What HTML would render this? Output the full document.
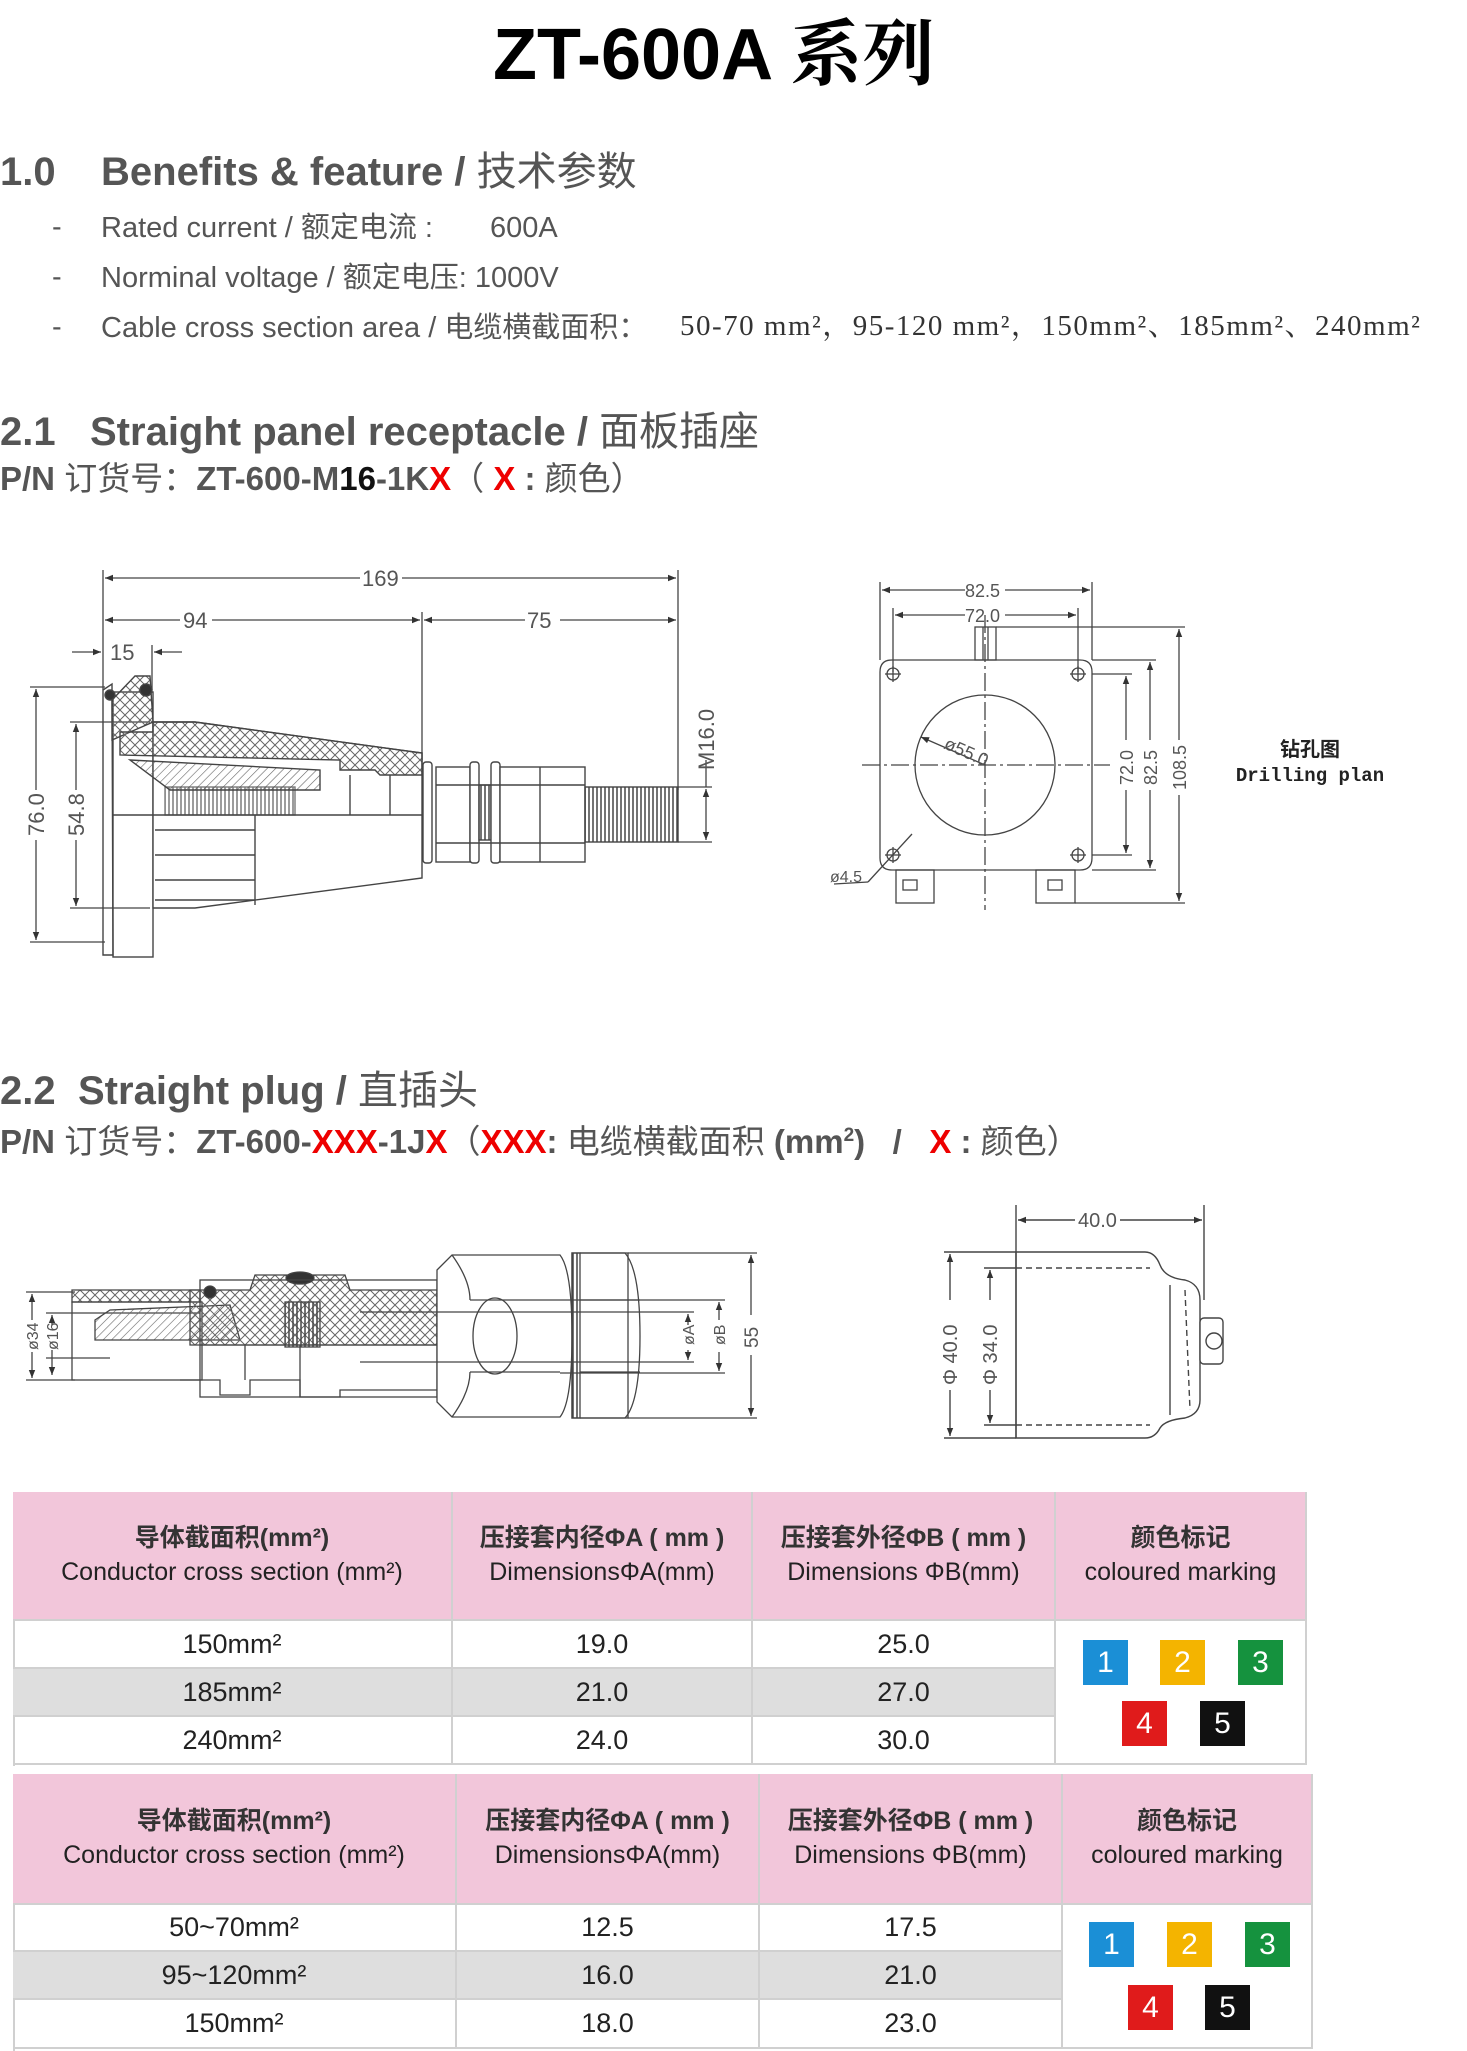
<!DOCTYPE html>
<html><head><meta charset="utf-8">
<style>
*{margin:0;padding:0;box-sizing:border-box}
body{width:1467px;height:2051px;background:#fff;position:relative;overflow:hidden;font-family:"Liberation Sans","Noto Sans CJK SC",sans-serif;color:#555}
.a{position:absolute;white-space:nowrap;line-height:1}
.h{font-weight:bold;font-size:40px;color:#555}
.b{font-size:29px;color:#555}
.pn{font-weight:bold;font-size:33px;color:#555}
.n{font-weight:normal}
.r{color:#e00}
.k{color:#111}
.cell{position:absolute;display:flex;align-items:center;justify-content:center;text-align:center;font-size:27px;color:#222;border-right:2px solid #d0d0d0;border-bottom:2px solid #d0d0d0}
.hd{background:#f2c6da;flex-direction:column;font-size:25px;line-height:1.35;font-weight:bold;color:#333}
.hd span.en{font-weight:normal;color:#222}
.g{background:#dedede}
.sq{position:absolute;width:45px;height:45px;color:#fff;font-size:30px;display:flex;align-items:center;justify-content:center;font-family:"Liberation Sans",sans-serif}
</style></head><body>

<div class="a" style="left:493px;top:12px;font-size:72px;font-weight:bold;color:#000;font-family:'Liberation Sans','Noto Sans CJK SC',sans-serif">ZT-600A <span style="font-weight:bold;font-family:'Noto Serif CJK SC',serif">系列</span></div>

<div class="a h" style="left:0;top:152px">1.0</div>
<div class="a h" style="left:101px;top:152px">Benefits &amp; feature / <span class="n">技术参数</span></div>

<div class="a b" style="left:52px;top:213px">-</div>
<div class="a b" style="left:101px;top:214px">Rated current / 额定电流 :</div>
<div class="a b" style="left:490px;top:214px">600A</div>
<div class="a b" style="left:52px;top:263px">-</div>
<div class="a b" style="left:101px;top:264px">Norminal voltage / 额定电压: 1000V</div>
<div class="a b" style="left:52px;top:313px">-</div>
<div class="a b" style="left:101px;top:314px">Cable cross section area / 电缆横截面积：</div>
<div class="a" style="left:680px;top:312px;font-size:29px;font-family:'Liberation Serif','Noto Serif CJK SC',serif;color:#333;letter-spacing:1.5px">50-70 mm²，95-120 mm²，150mm²、185mm²、240mm²</div>

<div class="a h" style="left:0;top:412px">2.1</div>
<div class="a h" style="left:90px;top:412px">Straight panel receptacle / <span class="n">面板插座</span></div>
<div class="a pn" style="left:0;top:462px">P/N <span class="n">订货号：</span>ZT-600-M<span class="k">16</span>-1K<span class="r">X</span><span class="n">（ </span> <span class="r">X</span> : <span class="n">颜色）</span></div>

<div class="a h" style="left:0;top:1071px">2.2</div>
<div class="a h" style="left:78px;top:1071px">Straight plug / <span class="n">直插头</span></div>
<div class="a pn" style="left:0;top:1125px">P/N <span class="n">订货号：</span>ZT-600-<span class="r">XXX</span>-1J<span class="r">X</span><span class="n">（</span><span class="r">XXX</span>: <span class="n">电缆横截面积</span> (mm<sup style="font-size:19px">2</sup>) &nbsp; / &nbsp; <span class="r">X</span> : <span class="n">颜色）</span></div>

<svg class="a" style="left:0;top:0" width="1467" height="2051" viewBox="0 0 1467 2051" font-family="Liberation Sans, sans-serif" fill="none" stroke="#555" stroke-width="1.5">
<defs>
<marker id="ar" viewBox="0 0 10 10" refX="10" refY="5" markerWidth="12" markerHeight="8" orient="auto-start-reverse" markerUnits="userSpaceOnUse"><path d="M0,1L10,5L0,9z" fill="#333" stroke="none"/></marker>
<pattern id="x" width="10" height="10" patternUnits="userSpaceOnUse"><path d="M0,0L10,10M10,0L0,10" stroke="#666" stroke-width="1"/></pattern>
<pattern id="d" width="6" height="6" patternUnits="userSpaceOnUse" patternTransform="rotate(45)"><path d="M0,0V6" stroke="#666" stroke-width="1.2"/></pattern>
<pattern id="t" width="4" height="10" patternUnits="userSpaceOnUse"><path d="M1,0V10" stroke="#444" stroke-width="1.5"/></pattern>
</defs>

<g stroke="#444" stroke-width="1.3">
<line x1="103" y1="570" x2="103" y2="690"/><line x1="678" y1="570" x2="678" y2="790"/>
<line x1="105" y1="578" x2="360" y2="578" marker-start="url(#ar)"/><line x1="402" y1="578" x2="676" y2="578" marker-end="url(#ar)"/>
<line x1="105" y1="620" x2="180" y2="620" marker-start="url(#ar)"/><line x1="212" y1="620" x2="420" y2="620" marker-end="url(#ar)"/>
<line x1="422" y1="612" x2="422" y2="760"/>
<line x1="424" y1="620" x2="525" y2="620" marker-start="url(#ar)"/><line x1="560" y1="620" x2="676" y2="620" marker-end="url(#ar)"/>
<line x1="72" y1="652" x2="101" y2="652" marker-end="url(#ar)"/><line x1="182" y1="652" x2="154" y2="652" marker-end="url(#ar)"/>
<line x1="152" y1="645" x2="152" y2="690"/>
<line x1="30" y1="687" x2="105" y2="687"/><line x1="30" y1="942" x2="105" y2="942"/>
<line x1="36" y1="689" x2="36" y2="790" marker-start="url(#ar)"/><line x1="36" y1="840" x2="36" y2="940" marker-end="url(#ar)"/>
<line x1="70" y1="722" x2="150" y2="722"/><line x1="70" y1="908" x2="150" y2="908"/>
<line x1="76" y1="724" x2="76" y2="790" marker-start="url(#ar)"/><line x1="76" y1="840" x2="76" y2="906" marker-end="url(#ar)"/>
<line x1="678" y1="787" x2="712" y2="787"/><line x1="678" y1="842" x2="712" y2="842"/>
<line x1="706" y1="789" x2="706" y2="840" marker-start="url(#ar)" marker-end="url(#ar)"/>
<line x1="706" y1="760" x2="706" y2="787"/>
</g>
<g fill="#555" stroke="none" font-size="22">
<text x="362" y="586">169</text><text x="183" y="628">94</text><text x="527" y="628">75</text><text x="110" y="660">15</text>
<text transform="translate(44,836) rotate(-90)">76.0</text>
<text transform="translate(84,836) rotate(-90)">54.8</text>
<text transform="translate(714,770) rotate(-90)">M16.0</text>
</g>
<g stroke="#444" stroke-width="1.4">
<path d="M103,690 L112,684 L113,955 L103,955 Z"/>
<rect x="113" y="692" width="40" height="265"/>
<path d="M112,700 L135,676 L150,676 L153,722 L112,740Z" fill="url(#x)"/>
<circle cx="110" cy="695" r="5" fill="#333"/><circle cx="146" cy="690" r="6" fill="#333"/>
<path d="M153,722 L195,722 L422,753 L422,878 L195,908 L153,908 Z" fill="#fff"/>
<path d="M120,732 L153,732 L153,722 L195,722 L422,753 L422,775 L380,775 L375,770 L340,770 L340,760 L120,755 Z" fill="url(#x)"/>
<path d="M130,760 L320,770 L320,790 L170,790 Z" fill="url(#d)"/>
<rect x="165" y="787" width="130" height="28" fill="url(#t)" opacity=".7"/>
<line x1="113" y1="815" x2="422" y2="815"/>
<line x1="155" y1="830" x2="255" y2="830"/><line x1="155" y1="855" x2="255" y2="855"/><line x1="155" y1="880" x2="255" y2="880"/><line x1="155" y1="900" x2="255" y2="900"/>
<line x1="255" y1="815" x2="255" y2="905"/>
<line x1="350" y1="775" x2="350" y2="815"/><line x1="390" y1="775" x2="390" y2="815"/>
<rect x="423" y="762" width="9" height="101" rx="3" fill="#fff"/>
<rect x="436" y="767" width="34" height="95" fill="#fff"/>
<rect x="470" y="762" width="9" height="101" rx="3" fill="#fff"/>
<rect x="479" y="785" width="12" height="55" fill="url(#t)"/>
<rect x="491" y="762" width="9" height="101" rx="3" fill="#fff"/>
<rect x="500" y="767" width="85" height="95" fill="#fff"/>
<line x1="540" y1="767" x2="540" y2="862"/>
<line x1="436" y1="785" x2="585" y2="785"/><line x1="436" y1="843" x2="585" y2="843"/>
<rect x="585" y="787" width="93" height="55" fill="url(#t)"/>
</g>

<g stroke="#444" stroke-width="1.3">
<line x1="880" y1="582" x2="880" y2="660"/><line x1="1092" y1="582" x2="1092" y2="660"/>
<line x1="882" y1="590" x2="965" y2="590" marker-start="url(#ar)"/><line x1="1005" y1="590" x2="1090" y2="590" marker-end="url(#ar)"/>
<line x1="893" y1="608" x2="893" y2="672"/><line x1="1078" y1="608" x2="1078" y2="672"/>
<line x1="895" y1="615" x2="965" y2="615" marker-start="url(#ar)"/><line x1="1005" y1="615" x2="1076" y2="615" marker-end="url(#ar)"/>
<path d="M892,660 H1080 Q1092,660 1092,672 V858 Q1092,870 1080,870 H892 Q880,870 880,858 V672 Q880,660 892,660Z"/>
<rect x="975" y="627" width="21" height="33"/><line x1="983" y1="627" x2="983" y2="660"/><line x1="988" y1="627" x2="988" y2="660"/>
<circle cx="985" cy="765" r="70"/>
<line x1="862" y1="765" x2="1110" y2="765" stroke-dasharray="18,4,3,4"/>
<line x1="985" y1="615" x2="985" y2="910" stroke-dasharray="18,4,3,4"/>
<line x1="985" y1="765" x2="921" y2="737" marker-end="url(#ar)"/>
<g><circle cx="893" cy="674" r="6"/><line x1="885" y1="674" x2="901" y2="674"/><line x1="893" y1="666" x2="893" y2="682"/></g>
<g><circle cx="1078" cy="674" r="6"/><line x1="1070" y1="674" x2="1086" y2="674"/><line x1="1078" y1="666" x2="1078" y2="682"/></g>
<g><circle cx="893" cy="855" r="6"/><line x1="885" y1="855" x2="901" y2="855"/><line x1="893" y1="847" x2="893" y2="863"/></g>
<g><circle cx="1078" cy="855" r="6"/><line x1="1070" y1="855" x2="1086" y2="855"/><line x1="1078" y1="847" x2="1078" y2="863"/></g>
<line x1="912" y1="834" x2="868" y2="882"/><line x1="868" y1="882" x2="834" y2="884"/>
<rect x="896" y="870" width="38" height="33"/><rect x="903" y="880" width="14" height="10"/>
<rect x="1036" y="870" width="39" height="33"/><rect x="1048" y="880" width="14" height="10"/>
<line x1="1092" y1="674" x2="1132" y2="674"/><line x1="1092" y1="855" x2="1132" y2="855"/>
<line x1="1126" y1="676" x2="1126" y2="740" marker-start="url(#ar)"/><line x1="1126" y1="790" x2="1126" y2="853" marker-end="url(#ar)"/>
<line x1="1092" y1="660" x2="1156" y2="660"/><line x1="1092" y1="870" x2="1156" y2="870"/>
<line x1="1150" y1="662" x2="1150" y2="740" marker-start="url(#ar)"/><line x1="1150" y1="790" x2="1150" y2="868" marker-end="url(#ar)"/>
<line x1="996" y1="627" x2="1185" y2="627"/><line x1="1075" y1="903" x2="1185" y2="903"/>
<line x1="1179" y1="629" x2="1179" y2="740" marker-start="url(#ar)"/><line x1="1179" y1="795" x2="1179" y2="901" marker-end="url(#ar)"/>
</g>
<g fill="#555" stroke="none" font-size="18">
<text x="965" y="597">82.5</text><text x="965" y="622">72.0</text>
<text transform="translate(943,748) rotate(24)">ø55.0</text>
<text x="830" y="882" font-size="16">ø4.5</text>
<text transform="translate(1133,785) rotate(-90)">72.0</text>
<text transform="translate(1157,785) rotate(-90)">82.5</text>
<text transform="translate(1186,790) rotate(-90)">108.5</text>
</g>
<g fill="#222" stroke="none" font-weight="bold">
<text x="1310" y="756" font-size="20" text-anchor="middle" font-family="Noto Sans CJK SC, sans-serif">钻孔图</text>
<text x="1310" y="781" font-size="19" text-anchor="middle" font-family="Liberation Mono, monospace">Drilling plan</text>
</g>

<g stroke="#444" stroke-width="1.3">
<line x1="26" y1="1292" x2="75" y2="1292"/><line x1="26" y1="1380" x2="75" y2="1380"/>
<line x1="32" y1="1294" x2="32" y2="1320" marker-start="url(#ar)"/><line x1="32" y1="1352" x2="32" y2="1378" marker-end="url(#ar)"/>
<line x1="46" y1="1313" x2="200" y2="1313"/><line x1="46" y1="1358" x2="110" y2="1358"/>
<line x1="52" y1="1315" x2="52" y2="1325" marker-start="url(#ar)"/><line x1="52" y1="1350" x2="52" y2="1375" marker-end="url(#ar)"/>
<path d="M72,1290 H200 V1302 H72Z" fill="url(#x)"/>
<rect x="72" y="1302" width="130" height="78"/>
<path d="M95,1320 L110,1310 L230,1305 L240,1340 L95,1340Z" fill="url(#d)"/>
<path d="M190,1290 L250,1290 L255,1275 L345,1275 L350,1290 L437,1290 L437,1345 L190,1345Z" fill="url(#x)"/>
<circle cx="210" cy="1292" r="6" fill="#333"/><ellipse cx="300" cy="1278" rx="14" ry="6" fill="#333"/>
<rect x="200" y="1280" width="237" height="117" fill="none"/>
<rect x="285" y="1302" width="35" height="45" fill="url(#t)"/>
<line x1="200" y1="1345" x2="437" y2="1345"/>
<path d="M180,1380 H220 V1395 H250 V1380 H300 V1397 H340 V1390 H437"/>
<line x1="245" y1="1345" x2="245" y2="1380"/><line x1="300" y1="1345" x2="300" y2="1397"/>
<path d="M437,1270 L452,1255 H560 Q572,1270 572,1336 Q572,1402 560,1417 H452 L437,1402 Z" fill="#fff"/>
<path d="M452,1255 Q470,1280 470,1300 M452,1417 Q470,1392 470,1372"/>
<ellipse cx="495" cy="1336" rx="22" ry="38"/>
<line x1="470" y1="1300" x2="560" y2="1300"/><line x1="470" y1="1372" x2="560" y2="1372"/>
<rect x="572" y="1253" width="56" height="165" fill="#fff"/>
<rect x="572" y="1253" width="8" height="165" fill="url(#t)"/>
<path d="M580,1253 H625 Q640,1270 640,1336 Q640,1402 625,1418 H580"/>
<line x1="580" y1="1300" x2="640" y2="1300"/><line x1="580" y1="1372" x2="640" y2="1372"/>
<line x1="560" y1="1300" x2="725" y2="1300"/><line x1="560" y1="1373" x2="725" y2="1373"/>
<line x1="360" y1="1312" x2="694" y2="1312"/><line x1="360" y1="1362" x2="694" y2="1362"/>
<line x1="688" y1="1314" x2="688" y2="1325" marker-start="url(#ar)"/><line x1="688" y1="1350" x2="688" y2="1360" marker-end="url(#ar)"/>
<line x1="719" y1="1302" x2="719" y2="1320" marker-start="url(#ar)"/><line x1="719" y1="1352" x2="719" y2="1371" marker-end="url(#ar)"/>
<line x1="628" y1="1253" x2="757" y2="1253"/><line x1="628" y1="1418" x2="757" y2="1418"/>
<line x1="751" y1="1255" x2="751" y2="1315" marker-start="url(#ar)"/><line x1="751" y1="1355" x2="751" y2="1416" marker-end="url(#ar)"/>
</g>
<g fill="#555" stroke="none" font-size="16">
<text transform="translate(38,1350) rotate(-90)">ø34</text>
<text transform="translate(58,1350) rotate(-90)">ø16</text>
<text transform="translate(694,1345) rotate(-90)">øA</text>
<text transform="translate(725,1345) rotate(-90)">øB</text>
<text transform="translate(758,1348) rotate(-90)" font-size="19">55</text>
</g>

<g stroke="#444" stroke-width="1.4">
<line x1="1016" y1="1205" x2="1016" y2="1252"/><line x1="1204" y1="1205" x2="1204" y2="1300"/>
<line x1="1018" y1="1220" x2="1075" y2="1220" marker-start="url(#ar)"/><line x1="1120" y1="1220" x2="1202" y2="1220" marker-end="url(#ar)"/>
<path d="M1016,1252 H1145 Q1155,1252 1160,1265 Q1165,1278 1185,1280 Q1200,1284 1200,1300 V1400 Q1200,1414 1185,1418 Q1165,1420 1160,1428 Q1155,1438 1145,1438 H1016 Z" fill="#fff"/>
<line x1="1016" y1="1252" x2="1016" y2="1438"/>
<line x1="1016" y1="1268" x2="1150" y2="1268" stroke-dasharray="6,4"/><line x1="1016" y1="1425" x2="1150" y2="1425" stroke-dasharray="6,4"/>
<line x1="1170" y1="1285" x2="1170" y2="1415"/><line x1="1185" y1="1290" x2="1190" y2="1410" stroke-dasharray="6,4"/>
<rect x="1200" y="1318" width="23" height="46" rx="4" fill="#fff"/><circle cx="1214" cy="1341" r="8"/>
<line x1="944" y1="1252" x2="1016" y2="1252"/><line x1="944" y1="1438" x2="1016" y2="1438"/>
<line x1="950" y1="1254" x2="950" y2="1300" marker-start="url(#ar)"/><line x1="950" y1="1390" x2="950" y2="1436" marker-end="url(#ar)"/>
<line x1="984" y1="1268" x2="1016" y2="1268"/><line x1="984" y1="1425" x2="1016" y2="1425"/>
<line x1="990" y1="1270" x2="990" y2="1300" marker-start="url(#ar)"/><line x1="990" y1="1390" x2="990" y2="1423" marker-end="url(#ar)"/>
</g>
<g fill="#555" stroke="none" font-size="20">
<text x="1078" y="1227">40.0</text>
<text transform="translate(957,1385) rotate(-90)">Φ 40.0</text>
<text transform="translate(997,1385) rotate(-90)">Φ 34.0</text>
</g>
</svg>

<div style="position:absolute;left:13px;top:1492px;width:1294px;height:274px;border-left:2px solid #d0d0d0;border-top:2px solid #d0d0d0"></div>
<div class="cell hd" style="left:13px;top:1492px;width:440px;height:129px"><span>导体截面积(mm²)</span><span class="en">Conductor cross section (mm²)</span></div>
<div class="cell hd" style="left:453px;top:1492px;width:300px;height:129px"><span>压接套内径ΦA ( mm )</span><span class="en">DimensionsΦA(mm)</span></div>
<div class="cell hd" style="left:753px;top:1492px;width:303px;height:129px"><span>压接套外径ΦB ( mm )</span><span class="en">Dimensions ΦB(mm)</span></div>
<div class="cell hd" style="left:1056px;top:1492px;width:251px;height:129px"><span>颜色标记</span><span class="en">coloured marking</span></div>
<div class="cell" style="left:13px;top:1621px;width:440px;height:48px">150mm²</div>
<div class="cell" style="left:453px;top:1621px;width:300px;height:48px">19.0</div>
<div class="cell" style="left:753px;top:1621px;width:303px;height:48px">25.0</div>
<div class="cell g" style="left:13px;top:1669px;width:440px;height:48px">185mm²</div>
<div class="cell g" style="left:453px;top:1669px;width:300px;height:48px">21.0</div>
<div class="cell g" style="left:753px;top:1669px;width:303px;height:48px">27.0</div>
<div class="cell" style="left:13px;top:1717px;width:440px;height:48px">240mm²</div>
<div class="cell" style="left:453px;top:1717px;width:300px;height:48px">24.0</div>
<div class="cell" style="left:753px;top:1717px;width:303px;height:48px">30.0</div>
<div class="cell" style="left:1056px;top:1621px;width:251px;height:144px"></div>
<div class="sq" style="left:1083px;top:1640px;background:#1b8fd6">1</div>
<div class="sq" style="left:1160px;top:1640px;background:#f4b400">2</div>
<div class="sq" style="left:1238px;top:1640px;background:#15923e">3</div>
<div class="sq" style="left:1122px;top:1701px;background:#e01b1b">4</div>
<div class="sq" style="left:1200px;top:1701px;background:#111">5</div>

<div style="position:absolute;left:13px;top:1774px;width:1300px;height:277px;border-left:2px solid #d0d0d0;border-top:2px solid #d0d0d0"></div>
<div class="cell hd" style="left:13px;top:1774px;width:444px;height:131px"><span>导体截面积(mm²)</span><span class="en">Conductor cross section (mm²)</span></div>
<div class="cell hd" style="left:457px;top:1774px;width:303px;height:131px"><span>压接套内径ΦA ( mm )</span><span class="en">DimensionsΦA(mm)</span></div>
<div class="cell hd" style="left:760px;top:1774px;width:303px;height:131px"><span>压接套外径ΦB ( mm )</span><span class="en">Dimensions ΦB(mm)</span></div>
<div class="cell hd" style="left:1063px;top:1774px;width:250px;height:131px"><span>颜色标记</span><span class="en">coloured marking</span></div>
<div class="cell" style="left:13px;top:1905px;width:444px;height:47px">50~70mm²</div>
<div class="cell" style="left:457px;top:1905px;width:303px;height:47px">12.5</div>
<div class="cell" style="left:760px;top:1905px;width:303px;height:47px">17.5</div>
<div class="cell g" style="left:13px;top:1952px;width:444px;height:48px">95~120mm²</div>
<div class="cell g" style="left:457px;top:1952px;width:303px;height:48px">16.0</div>
<div class="cell g" style="left:760px;top:1952px;width:303px;height:48px">21.0</div>
<div class="cell" style="left:13px;top:2000px;width:444px;height:49px">150mm²</div>
<div class="cell" style="left:457px;top:2000px;width:303px;height:49px">18.0</div>
<div class="cell" style="left:760px;top:2000px;width:303px;height:49px">23.0</div>
<div class="cell" style="left:1063px;top:1905px;width:250px;height:144px"></div>
<div class="sq" style="left:1089px;top:1922px;background:#1b8fd6">1</div>
<div class="sq" style="left:1167px;top:1922px;background:#f4b400">2</div>
<div class="sq" style="left:1245px;top:1922px;background:#15923e">3</div>
<div class="sq" style="left:1128px;top:1985px;background:#e01b1b">4</div>
<div class="sq" style="left:1205px;top:1985px;background:#111">5</div>

</body></html>
